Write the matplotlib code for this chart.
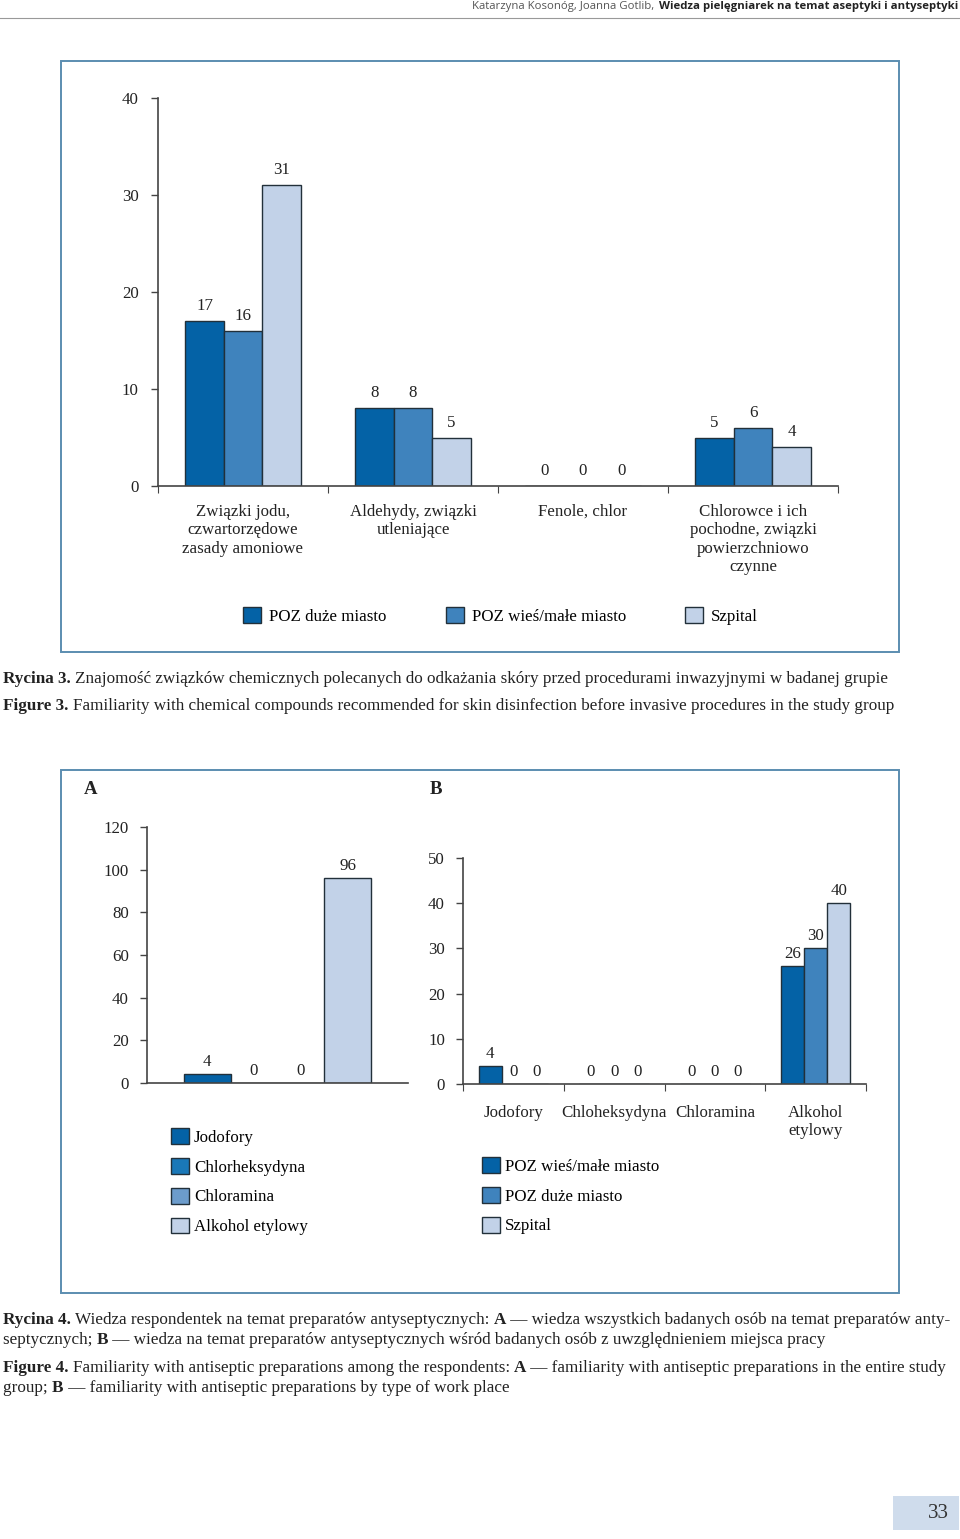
import matplotlib.pyplot as plt
from matplotlib.patches import Rectangle, Patch
import numpy as np

# data - figure 3 (top chart)
cat3 = ["Związki jodu,\nczwartorzędowe\nzasady amoniowe", "Aldehydy, związki\nutleniające",
        "Fenole, chlor", "Chlorowce i ich\npochodne, związki\npowierzchniowo\nczynne"]
series3 = ["POZ duże miasto", "POZ wieś/małe miasto", "Szpital"]
poz_duze3 = [17, 8, 0, 5]
poz_wies3 = [16, 8, 0, 6]
szpital3 = [31, 5, 0, 4]

# data - figure 4 A
prepA = ["Jodofory", "Chlorheksydyna", "Chloramina", "Alkohol etylowy"]
valsA = [4, 0, 0, 96]

# data - figure 4 B
catB = ["Jodofory", "Chloheksydyna", "Chloramina", "Alkohol\netylowy"]
seriesB = ["POZ wieś/małe miasto", "POZ duże miasto", "Szpital"]
poz_wiesB = [4, 0, 0, 26]
poz_duzeB = [0, 0, 0, 30]
szpitalB = [0, 0, 0, 40]

DARK = "#0462a6"
MID = "#3f83bd"
LIGHT = "#c2d2e8"
MID2 = "#1a78b8"
MID3 = "#6c9ccc"
EDGE = "#22303a"
AXC = "#444444"
FRAME = "#5b8db0"
SERIF = "Liberation Serif"
FS = 12.2   # chart text size
CFS = 12.35  # caption size

W, H = 960, 1539
fig = plt.figure(figsize=(9.6, 15.39), dpi=100)


def rect(x0, y0, x1, y1):
    # pixel box (top-left origin) -> figure fraction
    return [x0 / W, 1 - y1 / H, (x1 - x0) / W, (y1 - y0) / H]


def style_axes(ax):
    for s in ["top", "right"]:
        ax.spines[s].set_visible(False)
    for s in ["left", "bottom"]:
        ax.spines[s].set_color(AXC)
        ax.spines[s].set_linewidth(1.2)
    ax.tick_params(axis="y", direction="out", length=5, width=1, color=AXC,
                   labelsize=FS, pad=8, labelcolor="#222222")
    for t in ax.get_yticklabels():
        t.set_family(SERIF)


def bar_labels(ax, bars, vals, off=3):
    for b, v in zip(bars, vals):
        ax.annotate(str(v), (b.get_x() + b.get_width() / 2, b.get_height()),
                    xytext=(0, off), textcoords="offset points", ha="center",
                    va="bottom", family=SERIF, fontsize=FS, color="#222222")


def runs(xp, yp, parts, size=CFS):
    # draw text pieces one after another, (text, bold)
    r = fig.canvas.get_renderer()
    for txt, bold in parts:
        t = fig.text(xp / W, 1 - yp / H, txt, family=SERIF, weight="bold" if bold else "normal",
                     fontsize=size, va="center", color="#222222")
        xp += t.get_window_extent(r).width


# frames
fig.patches.append(Rectangle((61 / W, 1 - 652 / H), 838 / W, 591 / H, transform=fig.transFigure,
                             fill=False, edgecolor=FRAME, lw=1.4))
fig.patches.append(Rectangle((61 / W, 1 - 1293 / H), 838 / W, 523 / H, transform=fig.transFigure,
                             fill=False, edgecolor=FRAME, lw=1.4))

# header
fig.add_artist(plt.Line2D([0, 1], [1 - 18 / H, 1 - 18 / H], transform=fig.transFigure,
                          color="#999999", lw=0.8))
fig.canvas.draw()
rend = fig.canvas.get_renderer()
hdr = fig.text(958 / W, 1 - 6 / H, "Wiedza pielęgniarek na temat aseptyki i antyseptyki",
               ha="right", va="center", fontsize=8.2, family="Open Sans", weight="bold",
               color="#222222")
bw = hdr.get_window_extent(rend).width
fig.text((958 - bw - 5) / W, 1 - 6 / H, "Katarzyna Kosonóg, Joanna Gotlib,", ha="right",
         va="center", fontsize=8.2, family="Open Sans", color="#555555")

# ---- figure 3 ----
ax = fig.add_axes(rect(158, 98, 838, 486))
x = np.arange(len(cat3))
w = 0.226
b1 = ax.bar(x - w, poz_duze3, w, color=DARK, edgecolor=EDGE, lw=1, label=series3[0])
b2 = ax.bar(x, poz_wies3, w, color=MID, edgecolor=EDGE, lw=1, label=series3[1])
b3 = ax.bar(x + w, szpital3, w, color=LIGHT, edgecolor=EDGE, lw=1, label=series3[2])
for b, v in [(b1, poz_duze3), (b2, poz_wies3), (b3, szpital3)]:
    bar_labels(ax, b, v, off=5)
ax.set_ylim(0, 40)
ax.set_xlim(-0.5, 3.5)
ax.set_yticks([0, 10, 20, 30, 40])
ax.set_xticks([-0.5, 0.5, 1.5, 2.5, 3.5])
ax.set_xticklabels([])
ax.set_xticks(x, minor=True)
ax.set_xticklabels(cat3, minor=True, family=SERIF, fontsize=FS, color="#222222")
ax.tick_params(axis="x", which="minor", length=0, pad=13)
ax.tick_params(axis="x", which="major", direction="out", length=5, color=AXC)
style_axes(ax)
ax.tick_params(axis="y", pad=9)
ax.patch.set_alpha(0)
fig.legend(handles=[b1, b2, b3], labels=series3, loc="center left",
           bbox_to_anchor=(243 / W, 1 - 616 / H), ncol=3, frameon=False,
           prop={"family": SERIF, "size": FS}, handlelength=1.06, handleheight=1.06,
           handletextpad=0.47, columnspacing=3.5, borderpad=0, borderaxespad=0)

# ---- figure 4 A ----
axA = fig.add_axes(rect(147, 827, 408, 1083))
colsA = [DARK, MID2, MID3, LIGHT]
wa = 0.18
handlesA = []
for i, (v, c) in enumerate(zip(valsA, colsA)):
    bb = axA.bar([(i - 1.5) * wa], [v], wa, color=c, edgecolor=EDGE, lw=1)
    bar_labels(axA, bb, [v], off=3)
    handlesA.append(Patch(facecolor=c, edgecolor=EDGE, lw=1))
axA.set_ylim(0, 120)
axA.set_xlim(-0.5, 0.5)
axA.set_yticks([0, 20, 40, 60, 80, 100, 120])
axA.set_xticks([])
style_axes(axA)
axA.patch.set_alpha(0)
fig.legend(handles=handlesA, labels=prepA, loc="upper left",
           bbox_to_anchor=(171 / W, 1 - 1128 / H), frameon=False,
           prop={"family": SERIF, "size": FS}, handlelength=1.06, handleheight=1.06,
           handletextpad=0.3, labelspacing=0.72, borderpad=0, borderaxespad=0)
fig.text(91 / W, 1 - 789 / H, "A", ha="center", va="center", family=SERIF, weight="bold",
         fontsize=13.5, color="#222222")

# ---- figure 4 B ----
axB = fig.add_axes(rect(463, 858, 866, 1084))
xb = np.arange(len(catB))
wb = 0.23
c1 = axB.bar(xb - wb, poz_wiesB, wb, color=DARK, edgecolor=EDGE, lw=1)
c2 = axB.bar(xb, poz_duzeB, wb, color=MID, edgecolor=EDGE, lw=1)
c3 = axB.bar(xb + wb, szpitalB, wb, color=LIGHT, edgecolor=EDGE, lw=1)
for b, v in [(c1, poz_wiesB), (c2, poz_duzeB), (c3, szpitalB)]:
    bar_labels(axB, b, v, off=3)
axB.set_ylim(0, 50)
axB.set_xlim(-0.5, 3.5)
axB.set_yticks([0, 10, 20, 30, 40, 50])
axB.set_xticks([-0.5, 0.5, 1.5, 2.5, 3.5])
axB.set_xticklabels([])
axB.set_xticks(xb, minor=True)
axB.set_xticklabels(catB, minor=True, family=SERIF, fontsize=FS, color="#222222",
                    va="top")
axB.tick_params(axis="x", which="minor", length=0, pad=15)
axB.tick_params(axis="x", which="major", direction="out", length=5, color=AXC)
style_axes(axB)
axB.patch.set_alpha(0)
fig.legend(handles=[c1, c2, c3], labels=seriesB, loc="upper left",
           bbox_to_anchor=(482 / W, 1 - 1157 / H), frameon=False,
           prop={"family": SERIF, "size": FS}, handlelength=1.06, handleheight=1.06,
           handletextpad=0.3, labelspacing=0.72, borderpad=0, borderaxespad=0)
fig.text(436 / W, 1 - 789 / H, "B", ha="center", va="center", family=SERIF, weight="bold",
         fontsize=13.5, color="#222222")

# ---- captions ----
runs(3, 679, [("Rycina 3. ", True),
              ("Znajomość związków chemicznych polecanych do odkażania skóry przed procedurami inwazyjnymi w badanej grupie", False)])
runs(3, 706, [("Figure 3. ", True),
              ("Familiarity with chemical compounds recommended for skin disinfection before invasive procedures in the study group", False)])
runs(3, 1320, [("Rycina 4. ", True), ("Wiedza respondentek na temat preparatów antyseptycznych: ", False),
               ("A", True), (" — wiedza wszystkich badanych osób na temat preparatów anty-", False)])
runs(3, 1340, [("septycznych; ", False), ("B", True),
               (" — wiedza na temat preparatów antyseptycznych wśród badanych osób z uwzględnieniem miejsca pracy", False)])
runs(3, 1368, [("Figure 4. ", True), ("Familiarity with antiseptic preparations among the respondents: ", False),
               ("A", True), (" — familiarity with antiseptic preparations in the entire study", False)])
runs(3, 1388, [("group; ", False), ("B", True),
               (" — familiarity with antiseptic preparations by type of work place", False)])

# page number
fig.patches.append(Rectangle((893 / W, 1 - 1530 / H), 66 / W, 34 / H, transform=fig.transFigure,
                             facecolor="#cfdcec", edgecolor="none"))
fig.text(938 / W, 1 - 1513 / H, "33", ha="center", va="center", family=SERIF, fontsize=15,
         color="#333333")

fig.savefig("out.png", dpi=100)
